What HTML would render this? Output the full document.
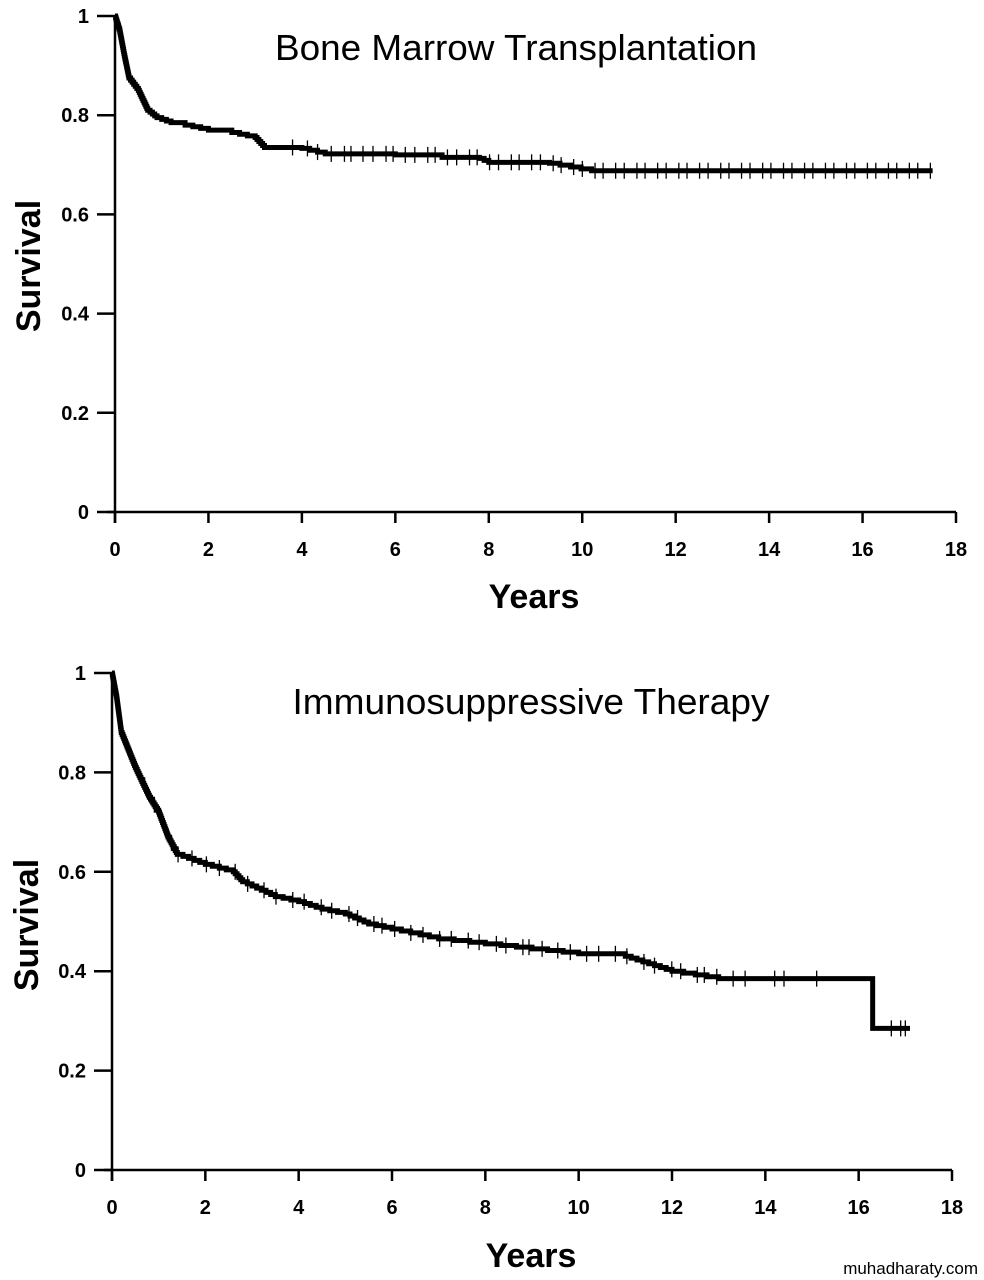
<!DOCTYPE html>
<html><head><meta charset="utf-8"><style>
html,body{margin:0;padding:0;background:#fff;}
svg{display:block}
text{font-family:"Liberation Sans",sans-serif;}
.t{font-weight:bold;font-size:20px;}
</style></head><body>
<svg id="s" width="984" height="1280" xmlns="http://www.w3.org/2000/svg">
<text x="516" y="60" font-size="36" text-anchor="middle" textLength="482" lengthAdjust="spacingAndGlyphs">Bone Marrow Transplantation</text>
<text x="531" y="714" font-size="36" text-anchor="middle" textLength="477" lengthAdjust="spacingAndGlyphs">Immunosuppressive Therapy</text>
<text x="534" y="608" font-size="34" font-weight="bold" text-anchor="middle">Years</text>
<text x="531" y="1267" font-size="34" font-weight="bold" text-anchor="middle">Years</text>
<text transform="translate(40,266) rotate(-90)" font-size="34" font-weight="bold" text-anchor="middle">Survival</text>
<text transform="translate(38,925) rotate(-90)" font-size="34" font-weight="bold" text-anchor="middle">Survival</text>
<text x="978" y="1274" font-size="17" text-anchor="end">muhadharaty.com</text>
<g id="g"></g>
</svg>
<script>
var g=document.getElementById('g'),h='';
function plot(ax,y1,y0,xe,data,cens){
 var sx=(xe-ax)/18;
 var X=t=>ax+t*sx,Y=s=>y0-(y0-y1)*s;
 h+='<line x1="'+ax+'" y1="'+y1+'" x2="'+ax+'" y2="'+(y0+11)+'" stroke="#000" stroke-width="2.5"/>';
 h+='<line x1="'+(ax-8)+'" y1="'+y0+'" x2="'+xe+'" y2="'+y0+'" stroke="#000" stroke-width="2.5"/>';
 for(var i=0;i<=5;i++){var y=Y(i/5);h+='<line x1="'+(ax-18)+'" y1="'+y+'" x2="'+ax+'" y2="'+y+'" stroke="#000" stroke-width="2.5"/>';
 h+='<text class="t" x="'+(ax-26)+'" y="'+(y+7)+'" text-anchor="end">'+(i==0?'0':i==5?'1':(i/5).toFixed(1))+'</text>';}
 for(var k=0;k<=18;k+=2){var x=X(k);h+='<line x1="'+x+'" y1="'+y0+'" x2="'+x+'" y2="'+(y0+11)+'" stroke="#000" stroke-width="2.5"/>';
 h+='<text class="t" x="'+x+'" y="'+(y0+44)+'" text-anchor="middle">'+k+'</text>';}
 // interpolate to fine steps
 var fine=[[data[0][0],data[0][1]]];
 for(var j=1;j<data.length;j++){var a=data[j-1],b=data[j];
  if(b[0]-a[0]>0.001 && a[1]-b[1]>0.004){var n=Math.max(1,Math.round((a[1]-b[1])/0.004));
   for(var m=1;m<=n;m++)fine.push([a[0]+(b[0]-a[0])*m/n,a[1]+(b[1]-a[1])*m/n]);}
  else fine.push(b);}
 var p='M'+X(fine[0][0])+' '+Y(fine[0][1]);
 for(var j=1;j<fine.length;j++){p+=' L'+X(fine[j][0])+' '+Y(fine[j-1][1])+' L'+X(fine[j][0])+' '+Y(fine[j][1]);}
 h+='<path d="'+p+'" fill="none" stroke="#000" stroke-width="5"/>';
 function sv(t){var s=fine[0][1];for(var j=0;j<fine.length;j++){if(fine[j][0]<=t)s=fine[j][1];}return s;}
 cens.forEach(function(t){var x=X(t),y=Y(sv(t));h+='<line x1="'+x+'" y1="'+(y-8)+'" x2="'+x+'" y2="'+(y+8)+'" stroke="#000" stroke-width="1.3"/>';});
}
var d1=[[0,1],[0.1,0.97],[0.2,0.92],[0.3,0.875],[0.5,0.85],[0.7,0.81],[0.9,0.795],[1.2,0.785],[1.5,0.78],[2,0.77],[2.5,0.765],[3,0.755],[3.2,0.735],[4,0.733],[4.5,0.722],[6,0.72],[7,0.715],[7.8,0.713],[8,0.705],[9.3,0.703],[10.2,0.688],[17.5,0.688]];
var c1=[];for(var t=3.8;t<17.5;t+=0.1+Math.abs(Math.sin(t*7))*0.22)c1.push(t);
plot(115,16,512,956,d1,c1);
var d2=[[0,1],[0.1,0.95],[0.2,0.88],[0.5,0.81],[0.8,0.75],[1,0.72],[1.2,0.67],[1.4,0.635],[2,0.615],[2.6,0.6],[2.8,0.58],[3.5,0.55],[4,0.54],[4.5,0.525],[5,0.515],[5.5,0.495],[6,0.485],[7,0.465],[8,0.455],[9,0.445],[10,0.435],[11,0.43],[11.5,0.415],[12,0.40],[13,0.385],[16.3,0.38],[16.3,0.285],[17.1,0.285]];
var c2=[];for(var t=0.7;t<13.9;t+=0.12+Math.abs(Math.sin(t*5))*0.25)c2.push(t);
c2.push(14.2,14.4,15.1,16.7,16.9,17.0);
plot(112,673,1170,952,d2,c2);
g.innerHTML=h;
</script>
</body></html>
